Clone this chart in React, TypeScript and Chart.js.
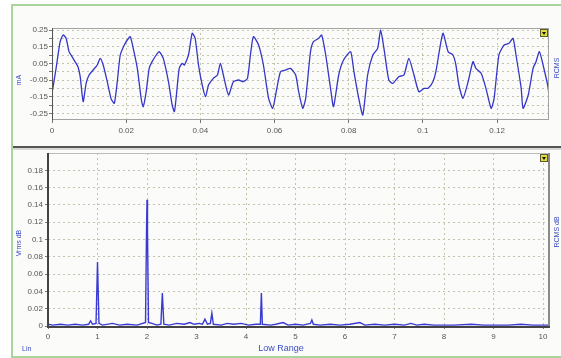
import React, { useEffect, useRef } from 'react';
import { Chart, registerables } from 'chart.js';

Chart.register(...registerables);

// ---- Top panel: time signal ----
const waveTime = [
  0.0000, 0.0011, 0.0022, 0.0030, 0.0038, 0.0046, 0.0054, 0.0062, 0.0070, 0.0076,
  0.0084, 0.0092, 0.0100, 0.0111, 0.0122, 0.0130, 0.0138, 0.0149, 0.0159, 0.0168,
  0.0176, 0.0184, 0.0195, 0.0203, 0.0211, 0.0219, 0.0230, 0.0241, 0.0246, 0.0254,
  0.0262, 0.0270, 0.0281, 0.0289, 0.0300, 0.0314, 0.0324, 0.0330, 0.0335, 0.0343,
  0.0351, 0.0357, 0.0368, 0.0378, 0.0386, 0.0395, 0.0405, 0.0414, 0.0422, 0.0435,
  0.0446, 0.0454, 0.0462, 0.0476, 0.0489, 0.0503, 0.0516, 0.0527, 0.0535, 0.0543,
  0.0557, 0.0570, 0.0584, 0.0595, 0.0603, 0.0616, 0.0630, 0.0643, 0.0657, 0.0665,
  0.0676, 0.0684, 0.0697, 0.0705, 0.0719, 0.0727, 0.0738, 0.0751, 0.0759, 0.0773,
  0.0786, 0.0805, 0.0814, 0.0827, 0.0838, 0.0851, 0.0865, 0.0878, 0.0886, 0.0895,
  0.0908, 0.0919, 0.0935, 0.0949, 0.0962, 0.0976, 0.0989, 0.1003, 0.1014, 0.1027,
  0.1035, 0.1054, 0.1068, 0.1081, 0.1089, 0.1097, 0.1108, 0.1122, 0.1135, 0.1143,
  0.1157, 0.1170, 0.1184, 0.1192, 0.1205, 0.1219, 0.1232, 0.1243, 0.1251, 0.1265,
  0.1270, 0.1284, 0.1297, 0.1305, 0.1314, 0.1324, 0.1338, 0.1340,
];
const waveValue = [
  -0.13, 0.02, 0.18, 0.22, 0.20, 0.12, 0.09, 0.06, 0.03, -0.03,
  -0.18, -0.07, -0.02, 0.01, 0.04, 0.08, 0.04, -0.06, -0.16, -0.19,
  -0.06, 0.10, 0.16, 0.19, 0.21, 0.14, 0.02, -0.17, -0.21, -0.12,
  0.02, 0.06, 0.10, 0.12, 0.08, -0.06, -0.20, -0.24, -0.15, 0.02,
  0.05, 0.04, 0.10, 0.23, 0.20, 0.04, -0.08, -0.15, -0.08, -0.04,
  -0.02, 0.05, -0.02, -0.14, -0.06, -0.05, -0.06, -0.04, 0.10, 0.21,
  0.16, 0.04, -0.16, -0.22, -0.14, 0.00, 0.01, 0.02, -0.02, -0.12,
  -0.22, -0.16, 0.12, 0.18, 0.20, 0.22, 0.10, -0.10, -0.21, -0.02,
  0.07, 0.12, 0.00, -0.16, -0.26, -0.02, 0.10, 0.14, 0.25, 0.14,
  -0.05, -0.07, -0.03, -0.02, 0.08, -0.02, -0.12, -0.10, -0.10, -0.06,
  0.00, 0.23, 0.12, 0.10, 0.04, -0.08, -0.16, -0.06, 0.06, 0.02,
  -0.01, -0.10, -0.22, -0.16, 0.10, 0.16, 0.17, 0.20, 0.10, -0.10,
  -0.22, -0.14, 0.02, 0.06, 0.12, 0.04, -0.10, -0.18,
];
const topXTicks = [0, 0.02, 0.04, 0.06, 0.08, 0.1, 0.12];
const topXLabels = ['0', '0.02', '0.04', '0.06', '0.08', '0.1', '0.12'];
const topYTicks = [-0.25, -0.2, -0.15, -0.1, -0.05, 0, 0.05, 0.1, 0.15, 0.2, 0.25];
const topYLabels = ['-0.25', '', '-0.15', '', '-0.05', '', '0.05', '', '0.15', '', '0.25'];

// ---- Bottom panel: spectrum ----
const specFreq = [
  0.00, 0.10, 0.25, 0.40, 0.55, 0.70, 0.82, 0.86, 0.90, 0.97,
  1.00, 1.03, 1.10, 1.30, 1.45, 1.60, 1.80, 1.97, 1.99, 2.00,
  2.01, 2.03, 2.10, 2.20, 2.28, 2.31, 2.34, 2.45, 2.60, 2.75,
  2.87, 2.95, 3.05, 3.12, 3.17, 3.22, 3.28, 3.31, 3.34, 3.50,
  3.62, 3.75, 3.90, 4.05, 4.20, 4.29, 4.31, 4.33, 4.50, 4.60,
  4.75, 4.85, 5.00, 5.15, 5.30, 5.33, 5.36, 5.50, 5.70, 5.90,
  6.10, 6.30, 6.40, 6.60, 6.80, 7.00, 7.20, 7.33, 7.45, 7.60,
  7.80, 8.00, 8.20, 8.55, 8.80, 9.00, 9.30, 9.55, 9.80, 10.00, 10.10,
];
const specAmp = [
  0.002, 0.001, 0.002, 0.001, 0.002, 0.001, 0.002, 0.006, 0.002, 0.003,
  0.074, 0.003, 0.001, 0.003, 0.001, 0.002, 0.001, 0.004, 0.110, 0.146,
  0.110, 0.004, 0.003, 0.001, 0.002, 0.038, 0.002, 0.001, 0.003, 0.002,
  0.004, 0.002, 0.003, 0.002, 0.008, 0.002, 0.003, 0.015, 0.002, 0.001,
  0.003, 0.002, 0.003, 0.001, 0.002, 0.002, 0.038, 0.002, 0.001, 0.002,
  0.004, 0.001, 0.002, 0.001, 0.003, 0.007, 0.002, 0.001, 0.002, 0.001,
  0.002, 0.004, 0.001, 0.002, 0.001, 0.002, 0.001, 0.003, 0.001, 0.002,
  0.001, 0.001, 0.001, 0.002, 0.001, 0.001, 0.001, 0.002, 0.001, 0.001, 0.001,
];
const botXTicks = [0, 1, 2, 3, 4, 5, 6, 7, 8, 9, 10];
const botYTicks = [0, 0.02, 0.04, 0.06, 0.08, 0.1, 0.12, 0.14, 0.16, 0.18];
const botYLabels = ['0', '0.02', '0.04', '0.06', '0.08', '0.1', '0.12', '0.14', '0.16', '0.18'];

const FONT = "'Liberation Sans', Arial, sans-serif";
const TICK_COLOR = '#555';
const GRID_COLOR = '#c4c4ae';
const LINE_BLUE = '#3535c8';
const TEXT_BLUE = '#3d4cc4';

function drawMarker(ctx: CanvasRenderingContext2D, x: number, y: number) {
  ctx.fillStyle = '#e2df3c';
  ctx.fillRect(x, y, 8, 8);
  ctx.strokeStyle = '#5a5a30';
  ctx.lineWidth = 1;
  ctx.strokeRect(x + 0.5, y + 0.5, 7, 7);
  ctx.fillStyle = '#111';
  ctx.beginPath();
  ctx.moveTo(x + 2, y + 3);
  ctx.lineTo(x + 6, y + 3);
  ctx.lineTo(x + 4, y + 6);
  ctx.closePath();
  ctx.fill();
}

function rotText(ctx: CanvasRenderingContext2D, text: string, x: number, y: number) {
  ctx.save();
  ctx.translate(x, y);
  ctx.rotate(-Math.PI / 2);
  ctx.textAlign = 'center';
  ctx.textBaseline = 'middle';
  ctx.fillText(text, 0, 0);
  ctx.restore();
}

const decorPlugin = {
  id: 'decor',
  afterDraw(chart: any, _args: any, opts: any) {
    const { ctx, chartArea: a } = chart;
    ctx.save();
    if (opts.kind === 'top') {
      ctx.strokeStyle = '#a2a2a2';
      ctx.lineWidth = 1;
      ctx.strokeRect(a.left + 0.5, a.top + 0.5, a.right - a.left - 1, a.bottom - a.top - 1);
      ctx.strokeStyle = '#555';
      ctx.beginPath();
      ctx.moveTo(a.left + 0.5, a.top);
      ctx.lineTo(a.left + 0.5, a.bottom);
      ctx.stroke();
      drawMarker(ctx, a.right - 9, a.top + 1);
      ctx.fillStyle = TEXT_BLUE;
      ctx.font = `7px ${FONT}`;
      rotText(ctx, 'mA', 19, 80);
      rotText(ctx, 'RCMS', 557, 68);
    } else {
      ctx.lineWidth = 1;
      ctx.strokeStyle = '#bcbcbc';
      ctx.beginPath();
      ctx.moveTo(a.left, a.top + 0.5);
      ctx.lineTo(a.right, a.top + 0.5);
      ctx.stroke();
      ctx.lineWidth = 2;
      ctx.strokeStyle = '#8a8a8a';
      ctx.beginPath();
      ctx.moveTo(a.right, a.top);
      ctx.lineTo(a.right, a.bottom);
      ctx.stroke();
      ctx.strokeStyle = '#444';
      ctx.beginPath();
      ctx.moveTo(a.left, a.top);
      ctx.lineTo(a.left, a.bottom + 1);
      ctx.lineTo(a.right + 1, a.bottom + 1);
      ctx.stroke();
      drawMarker(ctx, a.right - 9, a.top + 1);
      ctx.fillStyle = TEXT_BLUE;
      ctx.font = `7px ${FONT}`;
      rotText(ctx, 'Vrms dB', 19, 243);
      rotText(ctx, 'RCMS dB', 557, 232);
      ctx.textAlign = 'left';
      ctx.textBaseline = 'middle';
      ctx.fillText('Lin', 22, 349);
      ctx.font = `9px ${FONT}`;
      ctx.textAlign = 'center';
      ctx.fillText('Low Range', 281, 349);
    }
    ctx.restore();
  },
};

function setTicks(list: number[]) {
  return (scale: any) => {
    scale.ticks = list.map((v) => ({ value: v }));
  };
}

export default function App() {
  const topRef = useRef<HTMLCanvasElement>(null);
  const botRef = useRef<HTMLCanvasElement>(null);

  useEffect(() => {
    const tickFont = { family: FONT, size: 8 };
    const top = new Chart(topRef.current as HTMLCanvasElement, {
      type: 'line',
      data: {
        datasets: [
          {
            data: waveTime.map((t, i) => ({ x: t, y: waveValue[i] })),
            borderColor: LINE_BLUE,
            borderWidth: 1.3,
            pointRadius: 0,
            tension: 0.2,
          },
        ],
      },
      options: {
        responsive: false,
        animation: false,
        events: [],
        layout: { padding: { left: 12, top: 28, right: 12, bottom: 218 } },
        plugins: {
          legend: { display: false },
          tooltip: { enabled: false },
          decor: { kind: 'top' },
        } as any,
        scales: {
          x: {
            type: 'linear',
            min: 0,
            max: 0.134,
            afterBuildTicks: setTicks(topXTicks),
            afterFit: (s: any) => { s.height = 20; },
            ticks: {
              autoSkip: false,
              maxRotation: 0,
              padding: 3,
              color: TICK_COLOR,
              font: tickFont,
              callback: (_v: any, i: number) => topXLabels[i],
            },
            grid: { color: GRID_COLOR, tickLength: 3, tickColor: '#777' },
            border: { display: false, dash: [2, 3] },
          },
          y: {
            type: 'linear',
            min: -0.29,
            max: 0.262,
            afterBuildTicks: setTicks(topYTicks),
            afterFit: (s: any) => { s.width = 40; },
            ticks: {
              autoSkip: false,
              padding: 1,
              color: TICK_COLOR,
              font: tickFont,
              callback: (_v: any, i: number) => topYLabels[i],
            },
            grid: { color: GRID_COLOR, tickLength: 3, tickColor: '#777' },
            border: { display: false, dash: [2, 3] },
          },
        },
      },
      plugins: [decorPlugin],
    } as any);

    const bot = new Chart(botRef.current as HTMLCanvasElement, {
      type: 'line',
      data: {
        datasets: [
          {
            data: specFreq.map((f, i) => ({ x: f, y: specAmp[i] })),
            borderColor: '#3a3ad2',
            borderWidth: 1.4,
            pointRadius: 0,
            tension: 0,
          },
        ],
      },
      options: {
        responsive: false,
        animation: false,
        events: [],
        layout: { padding: { left: 12, top: 153, right: 12, bottom: 0 } },
        plugins: {
          legend: { display: false },
          tooltip: { enabled: false },
          decor: { kind: 'bottom' },
        } as any,
        scales: {
          x: {
            type: 'linear',
            min: 0,
            max: 10.12,
            afterBuildTicks: setTicks(botXTicks),
            afterFit: (s: any) => { s.height = 32; },
            ticks: {
              autoSkip: false,
              maxRotation: 0,
              padding: 3,
              color: TICK_COLOR,
              font: tickFont,
              callback: (v: any) => String(v),
            },
            grid: { color: GRID_COLOR, tickLength: 3, tickColor: '#777' },
            border: { display: false, dash: [2, 3] },
          },
          y: {
            type: 'linear',
            min: 0,
            max: 0.2,
            afterBuildTicks: setTicks(botYTicks),
            afterFit: (s: any) => { s.width = 36; },
            ticks: {
              autoSkip: false,
              padding: 2,
              color: TICK_COLOR,
              font: tickFont,
              callback: (_v: any, i: number) => botYLabels[i],
            },
            grid: { color: GRID_COLOR, tickLength: 3, tickColor: '#777' },
            border: { display: false, dash: [2, 3] },
          },
        },
      },
      plugins: [decorPlugin],
    } as any);

    return () => {
      top.destroy();
      bot.destroy();
    };
  }, []);

  return (
    <div
      style={{
        position: 'fixed',
        left: 0,
        top: 0,
        width: 561,
        height: 358,
        background: '#ffffff',
        overflow: 'hidden',
      }}
    >
      <div
        style={{
          position: 'absolute',
          left: 11,
          top: 4,
          width: 560,
          height: 350,
          borderTop: '2px solid #a9d59c',
          borderLeft: '2px solid #a9d59c',
          borderBottom: '2px solid #a9d59c',
          background: '#fbfcfa',
        }}
      />
      <div
        style={{
          position: 'absolute',
          left: 13,
          top: 146,
          width: 548,
          height: 2,
          background: '#555',
        }}
      />
      <div
        style={{
          position: 'absolute',
          left: 13,
          top: 148,
          width: 548,
          height: 2,
          background: '#d8d8d8',
        }}
      />
      <canvas
        ref={topRef}
        width={561}
        height={358}
        style={{ position: 'absolute', left: 0, top: 0, width: 561, height: 358 }}
      />
      <canvas
        ref={botRef}
        width={561}
        height={358}
        style={{ position: 'absolute', left: 0, top: 0, width: 561, height: 358 }}
      />
    </div>
  );
}
